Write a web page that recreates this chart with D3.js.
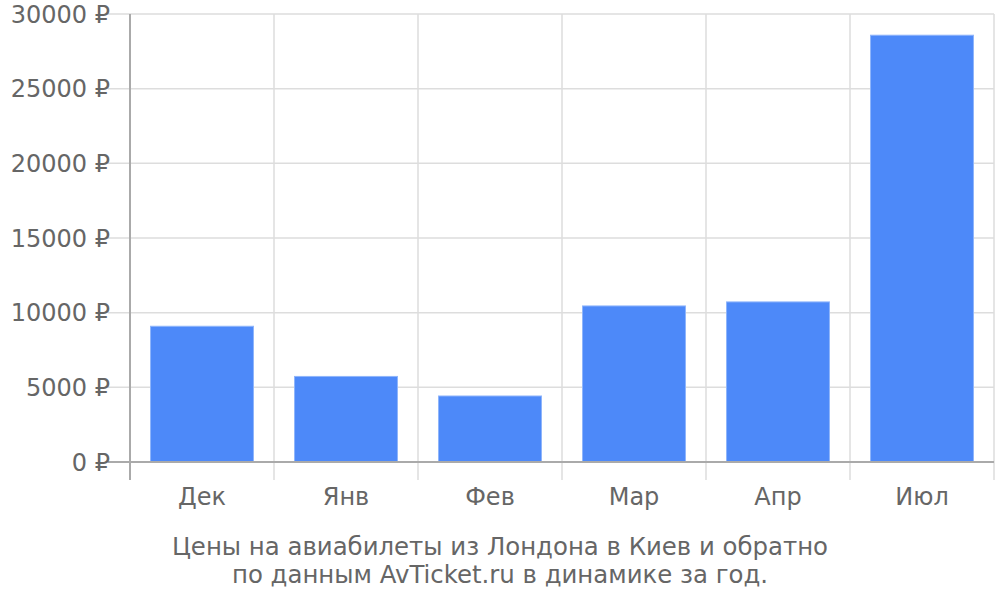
<!DOCTYPE html>
<html><head><meta charset="utf-8">
<script src="https://cdn.jsdelivr.net/npm/d3@7"></script>
<style>body{margin:0;background:#fff}svg{display:block;font-family:"DejaVu Sans",sans-serif}</style>
</head><body><svg id="c" width="1000" height="600"></svg>
<script>
const categories = ["Дек","Янв","Фев","Мар","Апр","Июл"];
const prices = [9090, 5730, 4420, 10450, 10720, 28580];
const yTicks = [0, 5000, 10000, 15000, 20000, 25000, 30000];
const captionLines = ["Цены на авиабилеты из Лондона в Киев и обратно","по данным AvTicket.ru в динамике за год."];

const svg = d3.select("#c");
const L = 130, R = 994, T = 14, B = 462;
const x = d3.scaleBand().domain(categories).range([L, R]).paddingInner(0.285).paddingOuter(0.1425);
const y = d3.scaleLinear().domain([0, 30000]).range([B, T]);
const step = x.step();
const textCol = "#666";

// horizontal grid
svg.append("g").selectAll("line").data(yTicks).join("line")
  .attr("x1", L - 22).attr("x2", R).attr("y1", d => y(d)).attr("y2", d => y(d))
  .attr("stroke", d => d === 0 ? "#aaa" : "#ddd").attr("stroke-width", d => d === 0 ? 2 : 1.5);
// vertical grid
const vx = d3.range(categories.length + 1).map(i => L + i * step);
svg.append("g").selectAll("line").data(vx).join("line")
  .attr("x1", d => d).attr("x2", d => d).attr("y1", T).attr("y2", B + 18)
  .attr("stroke", (d, i) => i === 0 ? "#aaa" : "#ddd").attr("stroke-width", (d, i) => i === 0 ? 2 : 1.5);

// bars
svg.append("g").selectAll("rect").data(prices).join("rect")
  .attr("x", (d, i) => x(categories[i])).attr("width", x.bandwidth())
  .attr("y", d => y(d)).attr("height", d => B - y(d))
  .attr("fill", "#4d89f9").attr("stroke", "#8fb5fb").attr("stroke-width", 1);
// redraw baseline on top
svg.append("line").attr("x1", L - 22).attr("x2", R).attr("y1", B).attr("y2", B).attr("stroke", "#aaa").attr("stroke-width", 2);

// y labels
svg.append("g").selectAll("text").data(yTicks).join("text")
  .attr("x", 110).attr("y", d => y(d)).attr("dy", "0.36em").attr("text-anchor", "end")
  .attr("font-size", 24).attr("fill", textCol).text(d => d + " ₽");
// x labels
svg.append("g").selectAll("text").data(categories).join("text")
  .attr("x", d => x(d) + x.bandwidth() / 2).attr("y", 505).attr("text-anchor", "middle")
  .attr("font-size", 24).attr("fill", textCol).text(d => d);
// caption
svg.append("g").selectAll("text").data(captionLines).join("text")
  .attr("x", 500).attr("y", (d, i) => 555 + i * 28).attr("text-anchor", "middle")
  .attr("font-size", 24.4).attr("fill", textCol).text(d => d);
</script></body></html>
